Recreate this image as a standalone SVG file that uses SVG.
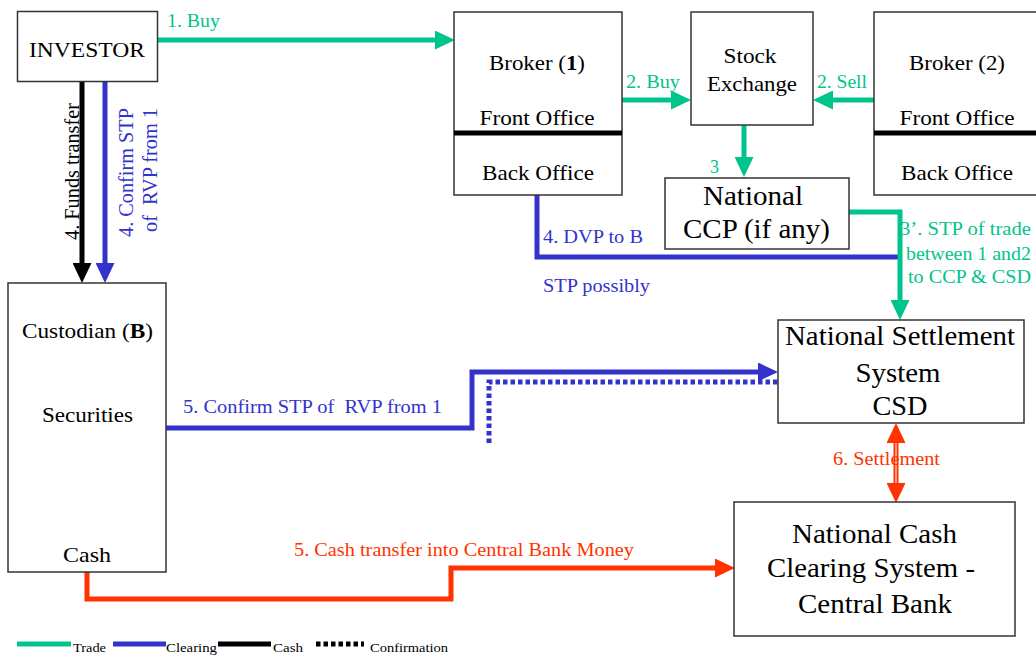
<svg xmlns="http://www.w3.org/2000/svg" width="1036" height="656" viewBox="0 0 1036 656">
  <style>
    text { font-family: "Liberation Serif", "Times New Roman", serif; }
    .box { fill: #ffffff; stroke: #333333; stroke-width: 1.5; }
    .div { stroke: #000000; stroke-width: 5; }
    .nt { fill: #000000; font-size: 22px; text-anchor: middle; }
    .big { fill: #000000; font-size: 28px; text-anchor: middle; }
    .lbl { font-size: 18px; }
    .g { fill: #00c48c; }
    .b { fill: #3333cc; }
    .r { fill: #ff3300; }
    .k { fill: #000000; }
    .ln { fill: none; stroke-width: 5; stroke-linejoin: miter; }
    .trade { stroke: #00c48c; }
    .clear { stroke: #3333cc; }
    .cash { stroke: #000000; }
    .sett { stroke: #ff3300; }
    .conf { stroke: #3333cc; stroke-dasharray: 4.5 3; }
    .leg { font-size: 13px; fill: #000000; }
  </style>
  <defs>
    <marker id="ahG" markerUnits="userSpaceOnUse" markerWidth="20" markerHeight="19" refX="0" refY="9.5" orient="auto">
      <path d="M0,0 L20,9.5 L0,19 z" fill="#00c48c"/>
    </marker>
    <marker id="ahB" markerUnits="userSpaceOnUse" markerWidth="20" markerHeight="19" refX="0" refY="9.5" orient="auto">
      <path d="M0,0 L20,9.5 L0,19 z" fill="#3333cc"/>
    </marker>
    <marker id="ahK" markerUnits="userSpaceOnUse" markerWidth="20" markerHeight="19" refX="0" refY="9.5" orient="auto">
      <path d="M0,0 L20,9.5 L0,19 z" fill="#000000"/>
    </marker>
    <marker id="ahR" markerUnits="userSpaceOnUse" markerWidth="20" markerHeight="19" refX="0" refY="9.5" orient="auto-start-reverse">
      <path d="M0,0 L20,9.5 L0,19 z" fill="#ff3300"/>
    </marker>
  </defs>

  <rect width="1036" height="656" fill="#ffffff"/>

  <!-- flows between the parties -->
  <g id="connectors">
    <path class="ln trade" d="M157,40 H435" marker-end="url(#ahG)"/>
    <path class="ln trade" d="M612,100 H671" marker-end="url(#ahG)"/>
    <path class="ln trade" d="M883,100 H833" marker-end="url(#ahG)"/>
    <path class="ln trade" d="M744,125 V157" marker-end="url(#ahG)"/>
    <path class="ln clear" d="M537,195 V257 H900"/>
    <path class="ln trade" d="M849,212 H900 V300" marker-end="url(#ahG)"/>
    <path class="ln cash" d="M82,82 V263" marker-end="url(#ahK)"/>
    <path class="ln clear" d="M105,82 V263" marker-end="url(#ahB)"/>
    <path class="ln clear" d="M166,428 H472 V372 H758" marker-end="url(#ahB)"/>
    <path class="ln conf" d="M489,443 V382 H778"/>
    <path class="ln sett" d="M87,572 V599 H451 V568 H715" marker-end="url(#ahR)"/>
    <path class="ln sett" d="M896,443 V483" marker-start="url(#ahR)" marker-end="url(#ahR)"/>
    <path d="M896,443 V483" stroke="#ffc2b0" stroke-width="1.5"/>

    <text class="lbl g" x="167" y="27" textLength="53" lengthAdjust="spacingAndGlyphs">1. Buy</text>
    <text class="lbl g" x="626" y="88" textLength="54" lengthAdjust="spacingAndGlyphs">2. Buy</text>
    <text class="lbl g" x="817" y="88" textLength="50" lengthAdjust="spacingAndGlyphs">2. Sell</text>
    <text class="lbl g" x="710" y="173">3</text>
    <text class="lbl g" x="1031" y="235" text-anchor="end" textLength="131" lengthAdjust="spacingAndGlyphs">3’. STP of trade</text>
    <text class="lbl g" x="1031" y="260" text-anchor="end" textLength="125" lengthAdjust="spacingAndGlyphs">between 1 and2</text>
    <text class="lbl g" x="1031" y="283" text-anchor="end" textLength="123" lengthAdjust="spacingAndGlyphs">to CCP &amp; CSD</text>
    <text class="lbl b" x="543" y="243" textLength="100" lengthAdjust="spacingAndGlyphs">4. DVP to B</text>
    <text class="lbl b" x="543" y="292" textLength="107" lengthAdjust="spacingAndGlyphs">STP possibly</text>
    <text class="k" font-size="20" text-anchor="middle" transform="translate(79,171.5) rotate(-90)" textLength="137" lengthAdjust="spacingAndGlyphs">4. Funds transfer</text>
    <text class="b" font-size="20" text-anchor="middle" transform="translate(133,172.5) rotate(-90)" textLength="129" lengthAdjust="spacingAndGlyphs">4. Confirm STP</text>
    <text class="b" font-size="20" text-anchor="middle" xml:space="preserve" transform="translate(157,170) rotate(-90)" textLength="124" lengthAdjust="spacingAndGlyphs">of  RVP from 1</text>
    <text class="lbl b" x="183" y="413" xml:space="preserve" textLength="259" lengthAdjust="spacingAndGlyphs">5. Confirm STP of  RVP from 1</text>
    <text class="lbl r" x="833" y="465" textLength="107" lengthAdjust="spacingAndGlyphs">6. Settlement</text>
    <text class="lbl r" x="294" y="556" textLength="340" lengthAdjust="spacingAndGlyphs">5. Cash transfer into Central Bank Money</text>
  </g>

  <g id="investor">
    <rect class="box" x="17.5" y="11.5" width="140" height="70"/>
    <text class="nt" x="87" y="57" font-size="23" textLength="116" lengthAdjust="spacingAndGlyphs">INVESTOR</text>
  </g>

  <g id="broker1">
    <rect class="box" x="454" y="12" width="168" height="183"/>
    <line class="div" x1="454" y1="133" x2="622" y2="133"/>
    <text class="nt" x="537" y="70" textLength="96" lengthAdjust="spacingAndGlyphs">Broker (<tspan font-weight="bold">1</tspan>)</text>
    <text class="nt" x="537" y="125" textLength="115" lengthAdjust="spacingAndGlyphs">Front Office</text>
    <text class="nt" x="538" y="180" textLength="112" lengthAdjust="spacingAndGlyphs">Back Office</text>
  </g>

  <g id="exchange">
    <rect class="box" x="691" y="12" width="122" height="113"/>
    <text class="nt" x="750" y="63" textLength="53" lengthAdjust="spacingAndGlyphs">Stock</text>
    <text class="nt" x="752" y="91" textLength="90" lengthAdjust="spacingAndGlyphs">Exchange</text>
  </g>

  <g id="broker2">
    <rect class="box" x="874" y="12" width="180" height="183"/>
    <line class="div" x1="874" y1="133" x2="1040" y2="133"/>
    <text class="nt" x="957" y="70" textLength="96" lengthAdjust="spacingAndGlyphs">Broker (2)</text>
    <text class="nt" x="957" y="125" textLength="115" lengthAdjust="spacingAndGlyphs">Front Office</text>
    <text class="nt" x="957" y="180" textLength="112" lengthAdjust="spacingAndGlyphs">Back Office</text>
  </g>

  <g id="ccp">
    <rect class="box" x="665" y="178" width="184" height="71"/>
    <text class="big" x="753" y="205" textLength="100" lengthAdjust="spacingAndGlyphs">National</text>
    <text class="big" x="756.5" y="238" textLength="147" lengthAdjust="spacingAndGlyphs">CCP (if any)</text>
  </g>

  <g id="custodian">
    <rect class="box" x="8" y="283" width="158" height="289"/>
    <text class="nt" x="87.5" y="338" textLength="131" lengthAdjust="spacingAndGlyphs">Custodian (<tspan font-weight="bold">B</tspan>)</text>
    <text class="nt" x="87.5" y="422" textLength="91" lengthAdjust="spacingAndGlyphs">Securities</text>
    <text class="nt" x="87" y="562" textLength="48" lengthAdjust="spacingAndGlyphs">Cash</text>
  </g>

  <g id="csd">
    <rect class="box" x="778" y="320" width="246" height="103"/>
    <text class="big" x="900" y="345" textLength="230" lengthAdjust="spacingAndGlyphs">National Settlement</text>
    <text class="big" x="898" y="382" textLength="85" lengthAdjust="spacingAndGlyphs">System</text>
    <text class="big" x="900" y="415" textLength="55" lengthAdjust="spacingAndGlyphs">CSD</text>
  </g>

  <g id="central-bank">
    <rect class="box" x="734" y="502" width="281" height="134"/>
    <text class="big" x="874.5" y="543" textLength="165" lengthAdjust="spacingAndGlyphs">National Cash</text>
    <text class="big" x="871" y="577" textLength="208" lengthAdjust="spacingAndGlyphs">Clearing System -</text>
    <text class="big" x="875" y="613" textLength="154" lengthAdjust="spacingAndGlyphs">Central Bank</text>
  </g>

  <!-- key to the line styles -->
  <g id="legend">
    <line class="ln trade" x1="17" y1="644" x2="71" y2="644"/>
    <text class="leg" x="73" y="652" textLength="33" lengthAdjust="spacingAndGlyphs">Trade</text>
    <line class="ln clear" x1="113" y1="644" x2="166" y2="644"/>
    <text class="leg" x="166" y="652" textLength="51" lengthAdjust="spacingAndGlyphs">Clearing</text>
    <line class="ln cash" x1="218" y1="644" x2="271" y2="644"/>
    <text class="leg" x="273" y="652" textLength="30" lengthAdjust="spacingAndGlyphs">Cash</text>
    <line class="ln conf" style="stroke:#000000" x1="316" y1="644" x2="364" y2="644"/>
    <text class="leg" x="370" y="652" textLength="78" lengthAdjust="spacingAndGlyphs">Confirmation</text>
  </g>
</svg>
